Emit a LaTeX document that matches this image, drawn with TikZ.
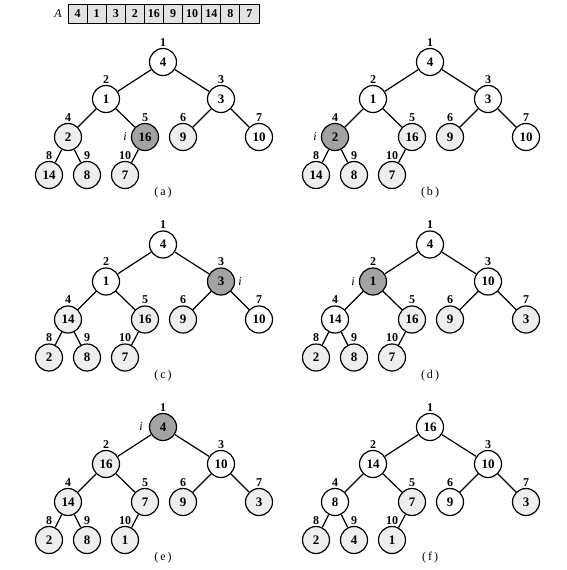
\documentclass[tikz,border=0pt]{standalone}
\usepackage{fontspec}
\setmainfont{Liberation Serif}
\usetikzlibrary{calc}
\tikzset{
  hn/.style={circle, draw, line width=1.2pt, minimum size=27pt, inner sep=0pt, font=\fontsize{13}{13}\selectfont\bfseries},
  nw/.style={hn, fill=white},
  nl/.style={hn, fill=gray!13},
  nd/.style={hn, fill=gray!72},
  idx/.style={inner sep=0pt, font=\fontsize{12}{12}\selectfont\bfseries},
  ital/.style={inner sep=0pt, font=\fontsize{12}{12}\selectfont\itshape},
  edge/.style={line width=1.2pt},
  capt/.style={inner sep=0pt, font=\fontsize{12}{12}\selectfont},
  cell/.style={draw, fill=gray!22, line width=0.9pt, minimum width=19.1pt, minimum height=19pt, inner sep=0pt, font=\fontsize{12}{12}\selectfont\bfseries}
}
\newcommand\heaptree[4]{%
  \begin{scope}[shift={#2}]
    \foreach \v/\s [count=\k] in {#3} {
      \pgfmathsetmacro\px{{0,-57,58,-95,-18,20,96,-114,-76,-38}[\k-1]}
      \pgfmathsetmacro\py{{0,37,37,75,75,75,75,113,113,113}[\k-1]}
      \node[\s] (#1\k) at (\px,\py) {\v};
      \node[idx] (#1l\k) at (\px,\py-19.5) {\k};
    }
    \foreach \p/\c in {1/2,1/3,2/4,2/5,3/6,3/7,4/8,4/9,5/10}
      \draw[edge] (#1\p) -- (#1\c);
    \node[capt] (#1cap) at (0,131) {(\,#4\,)};
  \end{scope}}
\begin{document}
\begin{tikzpicture}[x=1pt, y=-1pt]
  \useasboundingbox (0,0) rectangle (567,570);
  % array
  \node[ital] (Alab) at (58,13.5) {A};
  \foreach \v [count=\k] in {4,1,3,2,16,9,10,14,8,7}
    \node[cell] (c\k) at (68+9.55+19.1*\k-19.1,13.5) {\v};
  % trees
  \heaptree{a}{(163,62)}{4/nw,1/nw,3/nw,2/nl,16/nd,9/nl,10/nw,14/nl,8/nl,7/nl}{a}
  \node[ital] (ai) at ($(a5)+(-20,0)$) {i};
  \heaptree{b}{(430,62)}{4/nw,1/nw,3/nw,2/nd,16/nl,9/nl,10/nw,14/nl,8/nl,7/nl}{b}
  \node[ital] (bi) at ($(b4)+(-20,0)$) {i};
  \heaptree{c}{(163,244.5)}{4/nw,1/nw,3/nd,14/nl,16/nl,9/nl,10/nw,2/nl,8/nl,7/nl}{c}
  \node[ital] (ci) at ($(c3)+(19,0)$) {i};
  \heaptree{d}{(430,244.5)}{4/nw,1/nd,10/nw,14/nw,16/nl,9/nl,3/nl,2/nl,8/nl,7/nl}{d}
  \node[ital] (di) at ($(d2)+(-20,0)$) {i};
  \heaptree{e}{(163,427)}{4/nd,16/nl,10/nw,14/nl,7/nl,9/nl,3/nl,2/nl,8/nl,1/nl}{e}
  \node[ital] (ei) at ($(e1)+(-22,0)$) {i};
  \heaptree{f}{(430,427)}{16/nw,14/nw,10/nw,8/nw,7/nl,9/nw,3/nl,2/nl,4/nl,1/nl}{f}
\end{tikzpicture}
\end{document}
